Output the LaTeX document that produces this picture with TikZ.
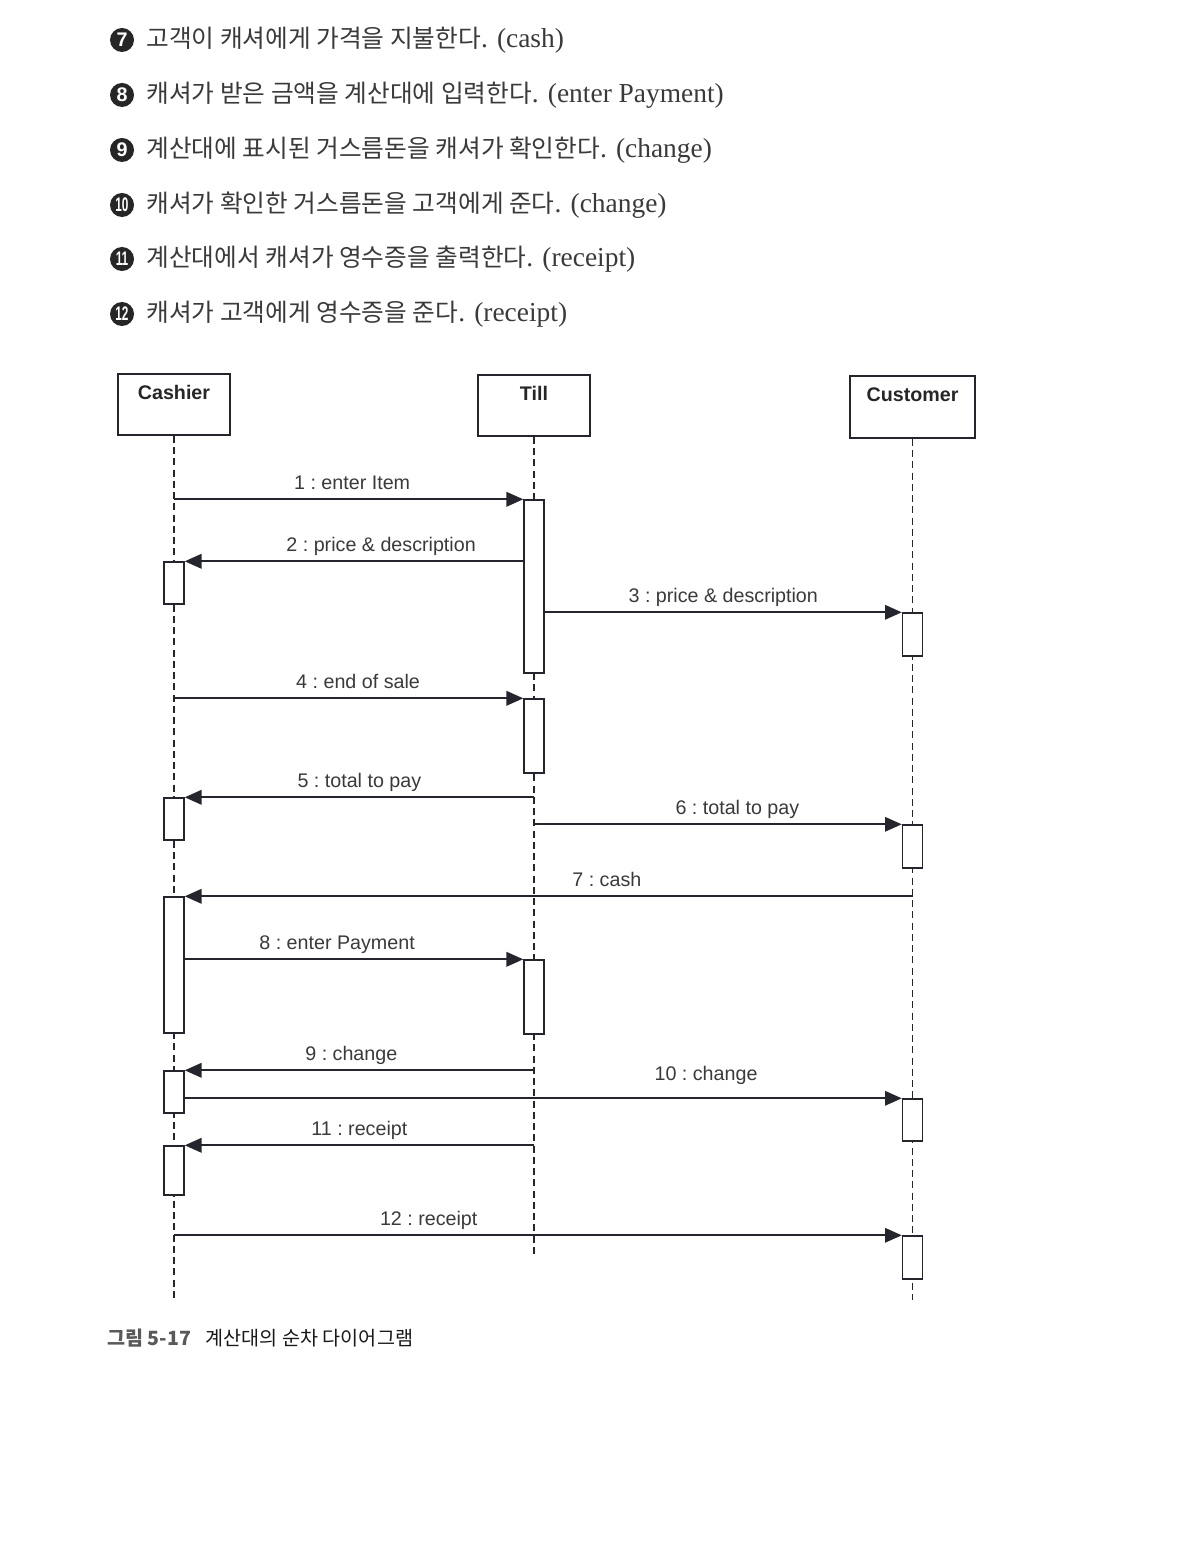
\documentclass[tikz,border=0pt]{standalone}
\usepackage{fontspec}
\setmainfont{Liberation Serif}
\setsansfont{Liberation Sans}
\newfontfamily\krfont{Noto Sans CJK KR}[Scale=0.9]
\usetikzlibrary{arrows.meta,positioning}
\definecolor{inkgray}{HTML}{3A3A3A}
\definecolor{linegray}{HTML}{25252E}
\newcommand{\pxu}{0.025cm}

\tikzset{
  numdot/.style={circle, fill=black!85, text=white, minimum size=0.6cm, inner sep=0pt,
    font=\sffamily\bfseries\fontsize{14pt}{14pt}\selectfont},
  steptext/.style={text=inkgray, inner sep=0pt, font=\fontsize{19.5pt}{22pt}\selectfont},
  head/.style={draw=linegray, line width=1.2pt, fill=white, inner sep=0pt},
  headlabel/.style={anchor=north, yshift=-0.3cm, inner sep=0pt, text=black!85,
    font=\sffamily\bfseries\fontsize{14pt}{16pt}\selectfont},
  lifeline/.style={draw=linegray, line width=1pt, dash pattern=on 5pt off 3pt},
  act/.style={draw=linegray, fill=white, line width=1pt, minimum width=0.5cm, inner sep=0pt},
  msg/.style={draw=linegray, line width=1.5pt, -{Triangle[length=0.42cm, width=0.36cm]}},
  msglabel/.style={anchor=base, yshift=0.24cm, inner sep=0pt, text=inkgray,
    font=\sffamily\frenchspacing\fontsize{14pt}{16pt}\selectfont}
}

\begin{document}
\begin{tikzpicture}[x=0.025cm, y=-0.025cm]
  \useasboundingbox[fill=white] (0,0) rectangle (1200,1543);

  % numbered steps
  \foreach \n/\ypos/\kr/\en in {
      7/40/{고객이 캐셔에게 가격을 지불한다}/{cash},
      8/95/{캐셔가 받은 금액을 계산대에 입력한다}/{enter Payment},
      9/150/{계산대에 표시된 거스름돈을 캐셔가 확인한다}/{change},
      10/205/{캐셔가 확인한 거스름돈을 고객에게 준다}/{change},
      11/259/{계산대에서 캐셔가 영수증을 출력한다}/{receipt},
      12/314/{캐셔가 고객에게 영수증을 준다}/{receipt}} {
    \node[numdot] (num\n) at (122,\ypos) {\ifnum\n>9 \scalebox{0.6}[1]{\n}\else\n\fi};
    \node[steptext, right=0.3cm of num\n] (line\n) {{\krfont\kr}. (\en)};
  }

  % objects
  \node[head, minimum width=112*\pxu, minimum height=61*\pxu,
    label={[headlabel]north:Cashier}] (cashier) at (174,404.5) {};
  \node[head, minimum width=112*\pxu, minimum height=61*\pxu,
    label={[headlabel]north:Till}] (till) at (534,405.5) {};
  \node[head, minimum width=125*\pxu, minimum height=62*\pxu,
    label={[headlabel]north:Customer}] (customer) at (912.5,407) {};

  % lifelines
  \coordinate (cashierEnd) at (174,1298);
  \coordinate (tillEnd) at (534,1255);
  \coordinate (customerEnd) at (912.5,1300);
  \draw[lifeline] (cashier.south) -- (cashierEnd);
  \draw[lifeline] (till.south) -- (tillEnd);
  \draw[lifeline] (customer.south) -- (customerEnd);

  % activations
  \node[act, minimum height=173*\pxu] (till1) at (534,586.5) {};
  \node[act, minimum height=42*\pxu] (cas1) at (174,583) {};
  \node[act, minimum height=43*\pxu] (cus1) at (912.5,634.5) {};
  \node[act, minimum height=74*\pxu] (till2) at (534,736) {};
  \node[act, minimum height=42*\pxu] (cas2) at (174,819) {};
  \node[act, minimum height=43*\pxu] (cus2) at (912.5,846.5) {};
  \node[act, minimum height=136*\pxu] (cas3) at (174,965) {};
  \node[act, minimum height=74*\pxu] (till3) at (534,997) {};
  \node[act, minimum height=42*\pxu] (cas4) at (174,1092) {};
  \node[act, minimum height=42*\pxu] (cus3) at (912.5,1120) {};
  \node[act, minimum height=49*\pxu] (cas5) at (174,1170.5) {};
  \node[act, minimum height=43*\pxu] (cus4) at (912.5,1257.5) {};

  % messages
  \draw[msg] (cashier.south |- till1.north) -- (till1.north west)
    node[msglabel, pos=0.51] {1 : enter Item};
  \draw[msg] (till1.west |- cas1.north) -- (cas1.north east)
    node[msglabel, pos=0.42] {2 : price \& description};
  \draw[msg] (till1.east |- cus1.north) -- (cus1.north west)
    node[msglabel, pos=0.5] {3 : price \& description};
  \draw[msg] (cashier.south |- till2.north) -- (till2.north west)
    node[msglabel, pos=0.527] {4 : end of sale};
  \draw[msg] (till.south |- cas2.north) -- (cas2.north east)
    node[msglabel, pos=0.5] {5 : total to pay};
  \draw[msg] (till.south |- cus2.north) -- (cus2.north west)
    node[msglabel, pos=0.553] {6 : total to pay};
  \draw[msg] (customer.south |- cas3.north) -- (cas3.north east)
    node[msglabel, pos=0.42] {7 : cash};
  \draw[msg] (cas3.east |- till3.north) -- (till3.north west)
    node[msglabel, pos=0.45] {8 : enter Payment};
  \draw[msg] (till.south |- cas4.north) -- (cas4.north east)
    node[msglabel, pos=0.523] {9 : change};
  \draw[msg] (cas4.east |- cus3.north) -- (cus3.north west)
    node[msglabel, pos=0.727, yshift=0.2cm] {10 : change};
  \draw[msg] (till.south |- cas5.north) -- (cas5.north east)
    node[msglabel, pos=0.5] {11 : receipt};
  \draw[msg] (cashier.south |- cus4.north) -- (cus4.north west)
    node[msglabel, pos=0.35] {12 : receipt};

  % caption
  \node[anchor=west, inner sep=0pt, text=black!65,
    font=\krfont\bfseries\fontsize{15.5pt}{17pt}\selectfont] (capnum) at (107,1338) {그림 5-17};
  \node[right=0.35cm of capnum, inner sep=0pt, text=black!90,
    font=\krfont\fontsize{15.5pt}{17pt}\selectfont] (captext) {계산대의 순차 다이어그램};
\end{tikzpicture}
\end{document}
